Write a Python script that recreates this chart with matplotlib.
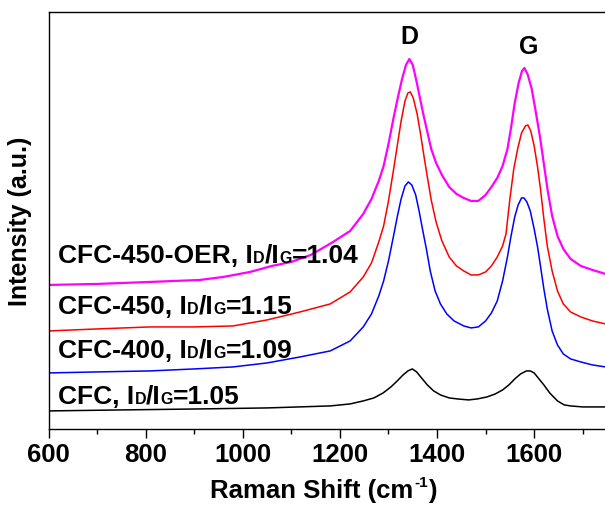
import matplotlib
matplotlib.use('Agg')
import matplotlib.pyplot as plt
from matplotlib.ticker import MultipleLocator

plt.rcParams.update({'font.family': 'Liberation Sans', 'font.weight': 'bold'})

# Raman spectra, offset for clarity (arbitrary units)
shift_oer = [600, 700, 809, 912, 960, 1015, 1060, 1100, 1140, 1186, 1221, 1248,
             1265, 1280, 1290, 1300, 1310, 1320, 1328, 1336, 1343, 1350, 1358,
             1366, 1373, 1380, 1388, 1398, 1410, 1425, 1440, 1455, 1470, 1485,
             1500, 1512, 1524, 1535, 1545, 1552, 1560, 1568, 1575, 1580, 1587,
             1595, 1603, 1612, 1620, 1628, 1637, 1648, 1660, 1675, 1696, 1720,
             1747, 1800]
int_oer = [144, 145, 147, 149, 152, 157, 163, 167, 174, 187, 198, 215,
           230, 248, 263, 285, 310, 333, 350, 364, 370, 364, 347,
           328, 312, 297, 280, 266, 254, 242, 235, 231, 228, 228,
           234, 242, 251, 263, 280, 300, 326, 346, 358, 361, 354,
           340, 318, 292, 265, 238, 213, 193, 180, 170, 163, 159,
           155, 152]

shift_450 = [600, 700, 809, 900, 980, 1050, 1118, 1180, 1221, 1248, 1265, 1280,
             1290, 1300, 1310, 1318, 1326, 1334, 1340, 1345, 1351, 1359, 1366,
             1373, 1380, 1388, 1398, 1410, 1425, 1440, 1455, 1470, 1485, 1500,
             1512, 1524, 1535, 1542, 1550, 1558, 1566, 1574, 1582, 1587, 1593,
             1600, 1607, 1613, 1620, 1627, 1637, 1648, 1660, 1675, 1696, 1720,
             1747, 1800]
int_450 = [98, 100, 102, 102, 103, 109, 117, 125, 137, 152, 166, 187,
           203, 228, 258, 283, 308, 328, 336, 337, 331, 315, 295,
           273, 252, 229, 207, 188, 172, 163, 158, 154, 154, 157,
           163, 172, 183, 195, 230, 260, 280, 296, 303, 304, 298,
           283, 262, 240, 210, 183, 158, 138, 125, 117, 112, 108,
           105, 103]

shift_400 = [600, 700, 809, 900, 980, 1050, 1118, 1180, 1221, 1248, 1265, 1280,
             1290, 1300, 1310, 1318, 1326, 1334, 1341, 1348, 1356, 1363, 1370,
             1378, 1386, 1396, 1407, 1420, 1435, 1455, 1470, 1485, 1500, 1512,
             1524, 1535, 1545, 1552, 1560, 1567, 1574, 1579, 1585, 1592, 1600,
             1607, 1613, 1620, 1627, 1637, 1648, 1660, 1675, 1696, 1720, 1747,
             1800]
int_400 = [56, 57, 58, 60, 62, 66, 72, 78, 88, 102, 115, 133,
           148, 168, 192, 212, 230, 243, 247, 244, 234, 218, 200,
           180, 158, 138, 125, 115, 108, 103, 101, 102, 108, 116,
           128, 148, 172, 192, 212, 224, 231, 231, 227, 218, 200,
           182, 163, 140, 120, 98, 84, 75, 70, 67, 64, 62,
           60]

shift_cfc = [600, 750, 912, 1050, 1180, 1221, 1248, 1270, 1289, 1305, 1318, 1330,
             1340, 1349, 1358, 1368, 1380, 1393, 1407, 1425, 1442, 1465, 1483,
             1503, 1520, 1535, 1548, 1560, 1572, 1584, 1592, 1600, 1610, 1620,
             1632, 1648, 1662, 1675, 1700, 1747, 1800]
int_cfc = [18, 19, 20, 21, 23, 25, 28, 31, 36, 42, 48, 54,
           58, 60, 57, 51, 44, 38, 34, 31, 30, 29, 30,
           32, 35, 39, 44, 50, 55, 58, 58, 56, 50, 44,
           36, 28, 24, 23, 22, 22, 21]

names = ['CFC-450-OER', 'CFC-450', 'CFC-400', 'CFC']
ratios = ['1.04', '1.15', '1.09', '1.05']
label_y = [167, 116, 72, 26]

fig = plt.figure(figsize=(6.05, 5.1), dpi=100)
# right spine sits just past the edge of the canvas
ax = fig.add_axes([0.0803, 0.157, 0.923, 0.8176])

ax.plot(shift_cfc, int_cfc, color='black', lw=1.1)
ax.plot(shift_400, int_400, color='#0000ff', lw=1.1)
ax.plot(shift_450, int_450, color='#ff0000', lw=1.1)
ax.plot(shift_oer, int_oer, color='#ff00ff', lw=1.6)

ax.set_xlim(600, 1750)
ax.set_ylim(0, 417)
ax.xaxis.set_major_locator(MultipleLocator(200))
ax.xaxis.set_minor_locator(MultipleLocator(100))
ax.tick_params(axis='x', which='major', direction='out', length=6.5, width=1,
               labelsize=18.5, pad=3)
ax.tick_params(axis='x', which='minor', direction='out', length=3.5, width=1)
ax.set_yticks([])
for s in ax.spines.values():
    s.set_linewidth(1)

ax.set_ylabel('Intensity (a.u.)', fontsize=18, fontweight='bold')
ax.yaxis.set_label_coords(-0.029, 0.5)

# x label with a small raised "-1"
xl = fig.text(0.347, 0.0235, 'Raman Shift (cm', fontsize=18.5, fontweight='bold',
              ha='left', va='baseline')
sup = ax.annotate('-1', xy=(1, 0.0235), xycoords=(xl, 'figure fraction'),
                  xytext=(0.5, 8), textcoords='offset points',
                  fontsize=11, fontweight='bold', ha='left', va='baseline')
ax.annotate(')', xy=(1, 0.0235), xycoords=(sup, 'figure fraction'),
            xytext=(0.5, 0), textcoords='offset points',
            fontsize=18.5, fontweight='bold', ha='left', va='baseline')

# I_D/I_G labels with the small letters kept on the baseline
big = dict(fontsize=19, fontweight='bold')
small = dict(fontsize=11.5, fontweight='bold')
for name, r, y in zip(names, ratios, label_y):
    pieces = [(name + ', I', big), ('D', small), ('/I', big), ('G', small), ('=' + r, big)]
    t = ax.text(620, y, pieces[0][0], va='baseline', ha='left', **pieces[0][1])
    for s, kw in pieces[1:]:
        t = ax.annotate(s, xy=(1, y), xycoords=(t, 'data'), va='baseline', ha='left', **kw)

ax.text(1343, 393, 'D', ha='center', va='center', fontsize=18, fontweight='bold')
ax.text(1588, 383, 'G', ha='center', va='center', fontsize=18, fontweight='bold')

fig.savefig('out.png', dpi=100)
